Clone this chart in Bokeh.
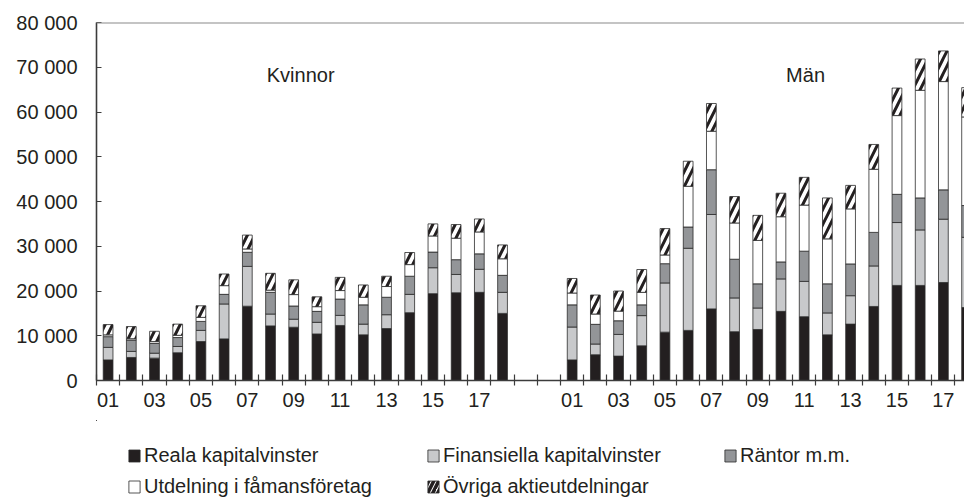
from bokeh.plotting import figure
from bokeh.models import (FixedTicker, Range1d, ColumnDataSource, Legend, LegendItem,
                          Label, Span)
from bokeh.layouts import column
from bokeh.embed import file_html
from bokeh.resources import INLINE

# ---------------- data ----------------
years = ["01", "02", "03", "04", "05", "06", "07", "08", "09",
         "10", "11", "12", "13", "14", "15", "16", "17", "18"]
groups = ["Kvinnor", "Män"]

series_names = ["Reala kapitalvinster", "Finansiella kapitalvinster", "Räntor m.m.",
                "Utdelning i fåmansföretag", "Övriga aktieutdelningar"]

kv_reala = [4600, 5150, 5000, 6200, 8700, 9300, 16600, 12200, 11900,
            10400, 12300, 10200, 11600, 15150, 19400, 19600, 19700, 15000]
kv_finans = [2800, 1350, 1100, 1400, 2500, 7800, 8900, 2650, 1800,
             2600, 2250, 2400, 3100, 4100, 5800, 4100, 5150, 4700]
kv_rantor = [2400, 2550, 2200, 2000, 2000, 2150, 3150, 4850, 2950,
             2450, 3650, 4300, 3900, 4050, 3500, 3300, 3450, 3800]
kv_famans = [400, 300, 400, 500, 900, 1950, 750, 500, 2550,
             1050, 1900, 1700, 2400, 2600, 3600, 4800, 4900, 3700]
kv_ovriga = [2300, 2700, 2300, 2500, 2600, 2600, 3100, 3750, 3300,
             2200, 2950, 2750, 2300, 2700, 2700, 3050, 2900, 3100]

man_reala = [4600, 5750, 5450, 7750, 10800, 11200, 16000, 10900, 11400,
             15450, 14250, 10200, 12600, 16550, 21250, 21250, 21900, 16300]
man_finans = [7350, 2400, 4850, 6750, 11000, 18350, 21100, 7550, 4800,
              7250, 7900, 4900, 6350, 9050, 14050, 12400, 14150, 15700]
man_rantor = [4950, 4400, 3050, 2400, 4300, 4750, 10000, 8650, 5400,
              3800, 6750, 6500, 7100, 7500, 6300, 7150, 6550, 7100]
man_famans = [2650, 2300, 2150, 2800, 1950, 9100, 8600, 8100, 9700,
              10100, 10300, 10050, 12300, 14100, 17600, 24050, 24200, 19800]
man_ovriga = [3250, 4250, 4500, 5100, 5900, 5600, 6200, 5900, 5600,
              5250, 6200, 9150, 5250, 5550, 6150, 7000, 6850, 6550]

label_years = ["01", "03", "05", "07", "09", "11", "13", "15", "17"]

y_ticks = [0, 10000, 20000, 30000, 40000, 50000, 60000, 70000, 80000]
y_tick_labels = ["0", "10 000", "20 000", "30 000", "40 000",
                 "50 000", "60 000", "70 000", "80 000"]

# ---------------- layout helpers ----------------
n = len(years)
gap = 2
x_k = list(range(n))
x_m = [n + gap + i for i in range(n)]

keys = ["reala", "finans", "rantor", "famans", "ovriga"]
source = ColumnDataSource(dict(
    x=x_k + x_m,
    reala=kv_reala + man_reala,
    finans=kv_finans + man_finans,
    rantor=kv_rantor + man_rantor,
    famans=kv_famans + man_famans,
    ovriga=kv_ovriga + man_ovriga,
))

colors = ["#231f20", "#c8c9cb", "#939598", "#ffffff", "#ffffff"]
TXT = "#231f20"
FONT = "Liberation Sans"
LINE = "#2b2b2b"
HATCH = dict(hatch_pattern="/", hatch_color="#231f20", hatch_weight=3.0, hatch_scale=15)

W = 964
p = figure(width=W, height=420, output_backend="svg", toolbar_location=None,
           x_range=Range1d(-0.5, 36.91), y_range=Range1d(0, 80000),
           min_border_left=96, min_border_top=22, min_border_right=0,
           min_border_bottom=40)
p.outline_line_color = None
p.xgrid.visible = False
p.ygrid.visible = False

renderers = p.vbar_stack(keys, x="x", width=0.42, source=source,
                         fill_color=colors, line_color=LINE, line_width=0.8)
hr = renderers[-1]
for k, v in HATCH.items():
    setattr(hr.glyph, k, v)

# top border
p.add_layout(Span(location=80000, dimension="width", line_color="#8a8a8a", line_width=2))

# x axis
label_pos = []
overrides = {}
for base in (x_k, x_m):
    for i, yy in enumerate(years):
        if yy in label_years:
            label_pos.append(base[i])
            overrides[base[i]] = yy
boundaries = [b - 0.5 for b in range(0, n * 2 + gap)]
xa = p.xaxis[0]
xa.ticker = FixedTicker(ticks=label_pos, minor_ticks=boundaries)
xa.major_label_overrides = overrides
xa.major_tick_in = 0
xa.major_tick_out = 0
xa.minor_tick_in = 6
xa.minor_tick_out = 5
xa.minor_tick_line_color = "#3c3c3c"
xa.minor_tick_line_width = 1.2
xa.axis_line_color = "#3c3c3c"
xa.axis_line_width = 1.6
xa.major_label_standoff = 7
xa.major_label_text_font = FONT
xa.major_label_text_font_size = "20px"
xa.major_label_text_color = TXT

# y axis
ya = p.yaxis[0]
ya.ticker = FixedTicker(ticks=y_ticks, minor_ticks=[])
ya.major_label_overrides = {t: l for t, l in zip(y_ticks, y_tick_labels)}
ya.major_tick_in = 5
ya.major_tick_out = 0
ya.major_tick_line_color = "#3c3c3c"
ya.axis_line_color = "#3c3c3c"
ya.axis_line_width = 1.6
ya.major_label_standoff = 19
ya.major_label_text_font = FONT
ya.major_label_text_font_size = "20px"
ya.major_label_text_color = TXT

# group titles
p.add_layout(Label(x=8.3, y=68200, text=groups[0], text_align="center",
                   text_baseline="middle", text_font=FONT, text_font_size="20px",
                   text_color=TXT))
p.add_layout(Label(x=n + gap + 10.06, y=68200, text=groups[1], text_align="center",
                   text_baseline="middle", text_font=FONT, text_font_size="20px",
                   text_color=TXT))

# ---------------- legend figure ----------------
# The legend lives in a strip below the chart; its swatch renderers share the
# chart data but the strip's ranges keep them out of view.
p2 = figure(width=W, height=78, output_backend="svg", toolbar_location=None,
            x_axis_type=None, y_axis_type=None,
            x_range=Range1d(200, 201), y_range=Range1d(-3, -2),
            min_border=0, min_border_left=96, min_border_right=0,
            min_border_top=0, min_border_bottom=0)
p2.outline_line_color = None
p2.xgrid.visible = False
p2.ygrid.visible = False

leg_pos = [(31, 31), (330, 31), (627, 31), (31, 0), (330, 0)]
for i, (name, (lx, ly)) in enumerate(zip(series_names, leg_pos)):
    r = p2.vbar(x="x", top=keys[i], width=0.42, source=source,
                fill_color=colors[i], line_color=LINE, line_width=0.8)
    if i == len(series_names) - 1:
        for k, v in HATCH.items():
            setattr(r.glyph, k, v)
        r.glyph.hatch_scale = 10
        r.glyph.hatch_weight = 3.5
    lg = Legend(items=[LegendItem(label=name, renderers=[r])], location=(lx, ly),
                padding=0, margin=0, spacing=0, border_line_color=None,
                background_fill_alpha=0, glyph_width=14, glyph_height=15,
                label_standoff=3, label_text_font=FONT, label_text_font_size="20px",
                label_text_color=TXT, label_height=20)
    p2.add_layout(lg, "center")

layout = column(p, p2, spacing=0)
open("out.html", "w").write(file_html(layout, INLINE))
